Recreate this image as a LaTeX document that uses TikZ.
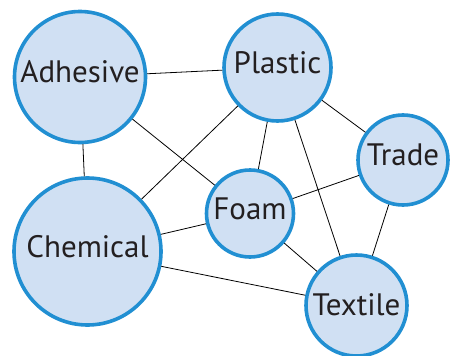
\documentclass[tikz,border=0pt]{standalone}
\usepackage{fontspec}
\setmainfont{PT Sans}
\usetikzlibrary{positioning}
\definecolor{ringblue}{RGB}{33,143,210}
\definecolor{fillblue}{RGB}{208,224,243}
\definecolor{inkgray}{RGB}{35,31,32}
\tikzset{
mycirc/.style={
  circle,
  draw=ringblue,
  fill=fillblue,
  line width=3.6pt,
  inner sep=0pt,
  text=inkgray,
  font=\fontsize{31}{32}\selectfont,
  text height=22pt,
  text depth=11pt
  },
link/.style={draw=black, line width=0.8pt}
}
\begin{document}
\begin{tikzpicture}[x=1pt,y=-1pt]
\useasboundingbox (0,0) rectangle (450,356);

\node[mycirc, minimum size=131pt] (adhesive) at (80,77) {Adhesive};
\node[mycirc, minimum size=107pt] (plastic) at (277.5,67.5) {Plastic};
\node[mycirc, minimum size=90pt] (trade) at (403,160) {Trade};
\node[mycirc, minimum size=87pt] (foam) at (250,213.5) {Foam};
\node[mycirc, minimum size=147pt] (chemical) at (87.5,251.5) {Chemical};
\node[mycirc, minimum size=101pt, text depth=2pt] (textile) at (356.5,305.5) {Textile};

\draw[link] (adhesive) -- (plastic);
\draw[link] (adhesive) -- (chemical);
\draw[link] (adhesive) -- (foam);
\draw[link] (plastic) -- (chemical);
\draw[link] (plastic) -- (foam);
\draw[link] (plastic) -- (trade);
\draw[link] (plastic) -- (textile);
\draw[link] (trade) -- (foam);
\draw[link] (trade) -- (textile);
\draw[link] (foam) -- (chemical);
\draw[link] (foam) -- (textile);
\draw[link] (chemical) -- (textile);

\end{tikzpicture}
\end{document}
